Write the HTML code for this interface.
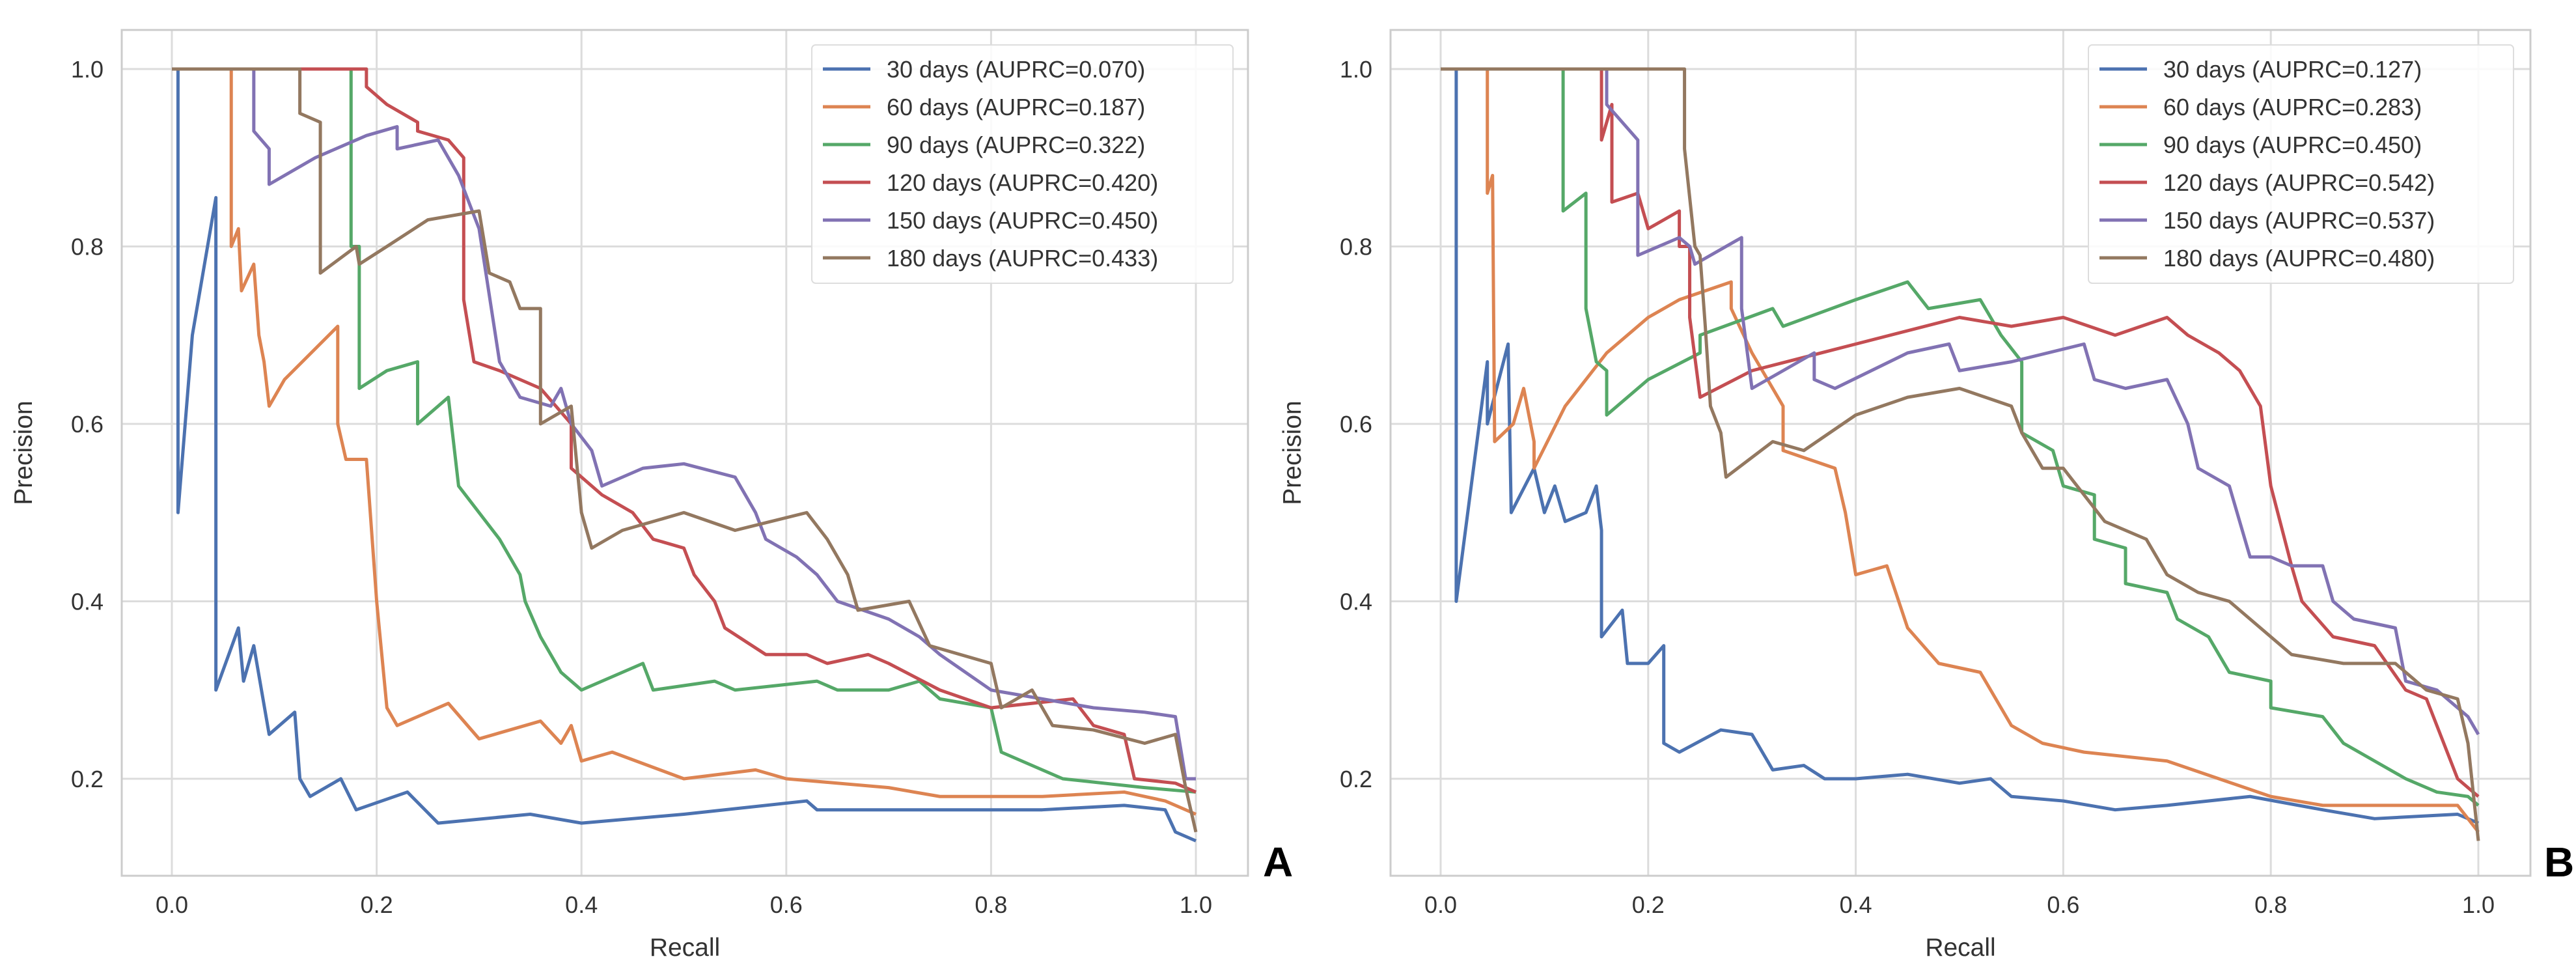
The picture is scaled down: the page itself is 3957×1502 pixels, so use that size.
<!DOCTYPE html>
<html><head><meta charset="utf-8"><style>
html,body{margin:0;padding:0;background:#fff;}
svg{display:block;font-family:"Liberation Sans",sans-serif;}
</style></head><body>
<svg id="chart" width="3957" height="1502" viewBox="0 0 3957 1502"></svg>
<script>
const seriesNames = ["30 days","60 days","90 days","120 days","150 days","180 days"];
const colors = ["#4c72b0","#dd8452","#55a868","#c44e52","#8172b3","#937860"];
const xTicks = [0,0.2,0.4,0.6,0.8,1.0];
const yTicks = [0.2,0.4,0.6,0.8,1.0];
const aucA = ["0.070","0.187","0.322","0.420","0.450","0.433"];
const aucB = ["0.127","0.283","0.450","0.542","0.537","0.480"];
const a30=[[0.006,1],[0.006,0.5],[0.02,0.7],[0.043,0.855],[0.043,0.3],[0.065,0.37],[0.07,0.31],[0.08,0.35],[0.095,0.25],[0.12,0.275],[0.125,0.2],[0.135,0.18],[0.165,0.2],[0.18,0.165],[0.23,0.185],[0.26,0.15],[0.35,0.16],[0.4,0.15],[0.5,0.16],[0.62,0.175],[0.63,0.165],[0.75,0.165],[0.85,0.165],[0.93,0.17],[0.97,0.165],[0.98,0.14],[1,0.13]];
const a60=[[0,1],[0.058,1],[0.058,0.8],[0.065,0.82],[0.068,0.75],[0.08,0.78],[0.085,0.7],[0.09,0.67],[0.095,0.62],[0.11,0.65],[0.162,0.71],[0.162,0.6],[0.17,0.56],[0.19,0.56],[0.2,0.4],[0.21,0.28],[0.22,0.26],[0.27,0.285],[0.3,0.245],[0.36,0.265],[0.38,0.24],[0.39,0.26],[0.4,0.22],[0.43,0.23],[0.5,0.2],[0.57,0.21],[0.6,0.2],[0.7,0.19],[0.75,0.18],[0.85,0.18],[0.93,0.185],[0.97,0.175],[1,0.16]];
const a90=[[0,1],[0.175,1],[0.175,0.8],[0.183,0.8],[0.183,0.64],[0.21,0.66],[0.24,0.67],[0.24,0.6],[0.27,0.63],[0.28,0.53],[0.3,0.5],[0.32,0.47],[0.34,0.43],[0.345,0.4],[0.36,0.36],[0.38,0.32],[0.4,0.3],[0.46,0.33],[0.47,0.3],[0.53,0.31],[0.55,0.3],[0.63,0.31],[0.65,0.3],[0.7,0.3],[0.73,0.31],[0.75,0.29],[0.8,0.28],[0.81,0.23],[0.83,0.22],[0.87,0.2],[0.95,0.19],[1,0.185]];
const a120=[[0,1],[0.19,1],[0.19,0.98],[0.21,0.96],[0.24,0.94],[0.24,0.93],[0.27,0.92],[0.285,0.9],[0.285,0.74],[0.295,0.67],[0.32,0.66],[0.36,0.64],[0.39,0.6],[0.39,0.55],[0.42,0.52],[0.45,0.5],[0.47,0.47],[0.5,0.46],[0.51,0.43],[0.53,0.4],[0.54,0.37],[0.58,0.34],[0.62,0.34],[0.64,0.33],[0.68,0.34],[0.7,0.33],[0.75,0.3],[0.8,0.28],[0.88,0.29],[0.9,0.26],[0.93,0.25],[0.94,0.2],[0.98,0.195],[1,0.185]];
const a150=[[0,1],[0.08,1],[0.08,0.93],[0.095,0.91],[0.095,0.87],[0.14,0.9],[0.19,0.925],[0.22,0.935],[0.22,0.91],[0.26,0.92],[0.28,0.88],[0.3,0.82],[0.32,0.67],[0.34,0.63],[0.37,0.62],[0.38,0.64],[0.39,0.6],[0.41,0.57],[0.42,0.53],[0.46,0.55],[0.5,0.555],[0.55,0.54],[0.57,0.5],[0.58,0.47],[0.61,0.45],[0.63,0.43],[0.65,0.4],[0.7,0.38],[0.73,0.36],[0.75,0.34],[0.8,0.3],[0.85,0.29],[0.9,0.28],[0.95,0.275],[0.98,0.27],[0.99,0.2],[1,0.2]];
const a180=[[0,1],[0.125,1],[0.125,0.95],[0.145,0.94],[0.145,0.77],[0.18,0.8],[0.183,0.78],[0.21,0.8],[0.25,0.83],[0.3,0.84],[0.31,0.77],[0.33,0.76],[0.34,0.73],[0.36,0.73],[0.36,0.6],[0.39,0.62],[0.4,0.5],[0.41,0.46],[0.44,0.48],[0.5,0.5],[0.55,0.48],[0.62,0.5],[0.64,0.47],[0.66,0.43],[0.67,0.39],[0.72,0.4],[0.74,0.35],[0.8,0.33],[0.81,0.28],[0.84,0.3],[0.86,0.26],[0.9,0.255],[0.95,0.24],[0.98,0.25],[0.99,0.19],[1,0.14]];
const b30=[[0.015,1],[0.015,0.4],[0.045,0.67],[0.045,0.6],[0.065,0.69],[0.068,0.5],[0.09,0.55],[0.1,0.5],[0.11,0.53],[0.12,0.49],[0.14,0.5],[0.15,0.53],[0.155,0.48],[0.155,0.36],[0.175,0.39],[0.18,0.33],[0.2,0.33],[0.215,0.35],[0.215,0.24],[0.23,0.23],[0.27,0.255],[0.3,0.25],[0.32,0.21],[0.35,0.215],[0.37,0.2],[0.4,0.2],[0.45,0.205],[0.5,0.195],[0.53,0.2],[0.55,0.18],[0.6,0.175],[0.65,0.165],[0.7,0.17],[0.78,0.18],[0.85,0.165],[0.9,0.155],[0.98,0.16],[1,0.15]];
const b60=[[0,1],[0.045,1],[0.045,0.86],[0.05,0.88],[0.052,0.58],[0.07,0.6],[0.08,0.64],[0.09,0.58],[0.09,0.55],[0.12,0.62],[0.16,0.68],[0.2,0.72],[0.23,0.74],[0.28,0.76],[0.28,0.73],[0.3,0.68],[0.33,0.62],[0.33,0.57],[0.38,0.55],[0.39,0.5],[0.4,0.43],[0.43,0.44],[0.45,0.37],[0.48,0.33],[0.52,0.32],[0.55,0.26],[0.58,0.24],[0.62,0.23],[0.7,0.22],[0.75,0.2],[0.8,0.18],[0.85,0.17],[0.98,0.17],[1,0.14]];
const b90=[[0,1],[0.118,1],[0.118,0.84],[0.14,0.86],[0.14,0.73],[0.15,0.67],[0.16,0.66],[0.16,0.61],[0.2,0.65],[0.25,0.68],[0.25,0.7],[0.32,0.73],[0.33,0.71],[0.4,0.74],[0.45,0.76],[0.47,0.73],[0.52,0.74],[0.54,0.7],[0.56,0.67],[0.56,0.59],[0.59,0.57],[0.6,0.53],[0.63,0.52],[0.63,0.47],[0.66,0.46],[0.66,0.42],[0.7,0.41],[0.71,0.38],[0.74,0.36],[0.76,0.32],[0.8,0.31],[0.8,0.28],[0.85,0.27],[0.87,0.24],[0.9,0.22],[0.93,0.2],[0.96,0.185],[0.99,0.18],[1,0.17]];
const b120=[[0,1],[0.155,1],[0.155,0.92],[0.165,0.96],[0.165,0.85],[0.19,0.86],[0.2,0.82],[0.23,0.84],[0.23,0.8],[0.24,0.8],[0.24,0.72],[0.25,0.63],[0.3,0.66],[0.4,0.69],[0.5,0.72],[0.55,0.71],[0.6,0.72],[0.65,0.7],[0.7,0.72],[0.72,0.7],[0.75,0.68],[0.77,0.66],[0.79,0.62],[0.8,0.53],[0.82,0.44],[0.83,0.4],[0.86,0.36],[0.9,0.35],[0.93,0.3],[0.95,0.29],[0.98,0.2],[1,0.18]];
const b150=[[0,1],[0.16,1],[0.16,0.96],[0.19,0.92],[0.19,0.79],[0.23,0.81],[0.24,0.8],[0.245,0.78],[0.29,0.81],[0.29,0.73],[0.3,0.64],[0.36,0.68],[0.36,0.65],[0.38,0.64],[0.45,0.68],[0.49,0.69],[0.5,0.66],[0.55,0.67],[0.62,0.69],[0.63,0.65],[0.66,0.64],[0.7,0.65],[0.72,0.6],[0.73,0.55],[0.76,0.53],[0.78,0.45],[0.8,0.45],[0.82,0.44],[0.85,0.44],[0.86,0.4],[0.88,0.38],[0.92,0.37],[0.93,0.31],[0.96,0.3],[0.99,0.27],[1,0.25]];
const b180=[[0,1],[0.235,1],[0.235,0.91],[0.245,0.8],[0.25,0.79],[0.255,0.71],[0.26,0.62],[0.27,0.59],[0.275,0.54],[0.32,0.58],[0.35,0.57],[0.4,0.61],[0.45,0.63],[0.5,0.64],[0.55,0.62],[0.56,0.59],[0.58,0.55],[0.6,0.55],[0.62,0.52],[0.64,0.49],[0.68,0.47],[0.7,0.43],[0.73,0.41],[0.76,0.4],[0.8,0.36],[0.82,0.34],[0.87,0.33],[0.92,0.33],[0.95,0.3],[0.98,0.29],[0.99,0.24],[1,0.13]];

const NS="http://www.w3.org/2000/svg";
const svg=document.getElementById('chart');
function mk(tag,attrs,parent){const e=document.createElementNS(NS,tag);for(const k in attrs)e.setAttribute(k,attrs[k]);(parent||svg).appendChild(e);return e;}

function panel(id,frame,x0,x1,series,aucs,legend,letter,letterX){
  const g=mk('g',{});
  
  
  const y1px=106, y02px=1196;
  const sx=v=>x0+(x1-x0)*v;
  const sy=v=>y1px+(1-v)*(y02px-y1px)/0.8;
  xTicks.forEach(t=>{const l=mk('line',{x1:sx(t),x2:sx(t),y1:frame[1],y2:frame[3],stroke:'#dcdcdc','stroke-width':3},g);
    
    const tx=mk('text',{x:sx(t),y:1402,'font-size':36,fill:'#333','text-anchor':'middle'},g);tx.textContent=t.toFixed(1);
    });
  yTicks.forEach(t=>{const l=mk('line',{x1:frame[0],x2:frame[2],y1:sy(t),y2:sy(t),stroke:'#dcdcdc','stroke-width':3},g);
    
    const tx=mk('text',{x:frame[0]-28,y:sy(t)+13,'font-size':36,fill:'#333','text-anchor':'end'},g);tx.textContent=t.toFixed(1);
    });
  const fr=mk('rect',{x:frame[0],y:frame[1],width:frame[2]-frame[0],height:frame[3]-frame[1],fill:'none',stroke:'#cccccc','stroke-width':3},g);
  
  series.forEach((s,i)=>{const p=mk('polyline',{points:s.map(d=>sx(d[0])+','+sy(d[1])).join(' '),fill:'none',stroke:colors[i],'stroke-width':5,'stroke-linejoin':'round'},g);
    });
  const xl=mk('text',{x:(frame[0]+frame[2])/2,y:1468,'font-size':39,fill:'#333','text-anchor':'middle'},g);xl.textContent='Recall';
  
  const cy=(frame[1]+frame[3])/2, cx=frame[0]-138;
  const yl=mk('text',{x:cx,y:cy,'font-size':39,fill:'#333','text-anchor':'middle',transform:`rotate(-90 ${cx} ${cy})`},g);yl.textContent='Precision';
  
  const lg=mk('g',{},g);
  mk('rect',{x:legend[0],y:69,width:legend[1]-legend[0],height:366,rx:6,fill:'#fff','fill-opacity':0.85,stroke:'#dddddd','stroke-width':2},lg);
  seriesNames.forEach((n,i)=>{const yy=106+i*58;
    const e=mk('g',{},lg);
    mk('line',{x1:legend[0]+17,x2:legend[0]+90,y1:yy,y2:yy,stroke:colors[i],'stroke-width':5},e);
    const t=mk('text',{x:legend[0]+115,y:yy+13,'font-size':36,fill:'#333'},e);t.textContent=n+' (AUPRC='+aucs[i]+')';});
  const L=mk('text',{x:letterX,y:1346,'font-size':64,'font-weight':'bold',fill:'#000'},g);L.textContent=letter;
  
}
panel('a',[187,46,1917,1345],264,1837,[a30,a60,a90,a120,a150,a180],aucA,[1247,1894],'A',1940);
panel('b',[2136,46,3887,1345],2213,3807,[b30,b60,b90,b120,b150,b180],aucB,[3208,3861],'B',3908);
</script>
</body></html>
